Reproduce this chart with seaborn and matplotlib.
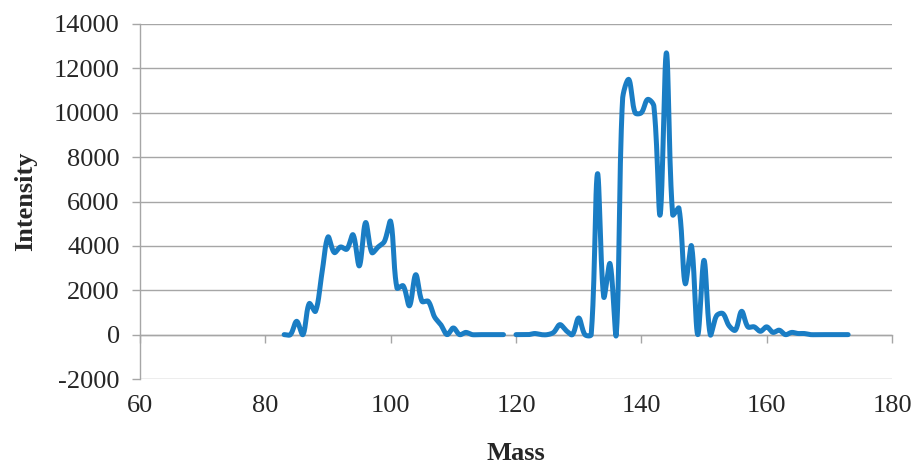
import numpy as np
import pandas as pd
import matplotlib
matplotlib.use('Agg')
import matplotlib.pyplot as plt
import seaborn as sns

# two runs of data, nothing recorded at mass 119
mass_a = list(range(83, 119))
intensity_a = [0, 0, 600, 0, 1400, 1050, 2700, 4400, 3700, 3950,
               3850, 4500, 3100, 5050, 3700, 3950, 4200, 5100, 2100, 2200,
               1300, 2700, 1500, 1500, 800, 450, 0, 300, 0, 100,
               0, 0, 0, 0, 0, 0]

mass_b = list(range(120, 174))
intensity_b = [0, 0, 0, 50, 0, 0, 100, 450, 180, 0,
               750, 0, 0, 7250, 1700, 3200, 0, 10600, 11500, 10000,
               10000, 10600, 10300, 5400, 12700, 5400, 5700, 2300, 4000, 0,
               3350, 0, 850, 950, 400, 200, 1050, 350, 350, 150,
               350, 100, 200, 0, 100, 50, 50, 0, 0, 0,
               0, 0, 0, 0]

x_ticks = [60, 80, 100, 120, 140, 160, 180]
y_ticks = [-2000, 0, 2000, 4000, 6000, 8000, 10000, 12000, 14000]

LINE = '#1a7dc4'
GRID = '#a6a6a6'

# rough pixel size of one data unit, used to smooth in screen space
SX, SY = 6.27, 0.0222


def smooth(xs, ys, n=24):
    # Excel-like smoothed line: bezier segments, handles scaled by chord length
    p = np.column_stack([np.array(xs) * SX, np.array(ys) * SY]).astype(float)
    p = np.vstack([p[0], p, p[-1]])
    out = []
    t = np.linspace(0, 1, n, endpoint=False)[:, None]
    for i in range(1, len(p) - 2):
        p0, p1, p2, p3 = p[i - 1], p[i], p[i + 1], p[i + 2]
        d01 = np.hypot(*(p1 - p0))
        d12 = np.hypot(*(p2 - p1))
        d23 = np.hypot(*(p3 - p2))
        f1 = d12 / (d01 + d12) if d01 + d12 > 0 else 0
        f2 = d12 / (d12 + d23) if d12 + d23 > 0 else 0
        c1 = p1 + (p2 - p0) * f1 / 3
        c2 = p2 - (p3 - p1) * f2 / 3
        seg = ((1 - t) ** 3) * p1 + 3 * ((1 - t) ** 2) * t * c1 + 3 * (1 - t) * t ** 2 * c2 + t ** 3 * p2
        out.append(seg)
    out.append(p[-2][None, :])
    out = np.vstack(out)
    return out[:, 0] / SX, out[:, 1] / SY


sns.set_style('white')
plt.rcParams['font.family'] = ['Liberation Serif', 'DejaVu Serif']
plt.rcParams['axes.unicode_minus'] = False

fig = plt.figure(figsize=(9.17, 4.66), dpi=100)
ax = fig.add_axes([140 / 917, 1 - 379 / 466, 752 / 917, 355 / 466])

frames = []
for k, (mx, iy) in enumerate([(mass_a, intensity_a), (mass_b, intensity_b)]):
    sx, sy = smooth(mx, iy)
    frames.append(pd.DataFrame({'Mass': sx, 'Intensity': sy, 'seg': k}))
df = pd.concat(frames, ignore_index=True)

sns.lineplot(data=df, x='Mass', y='Intensity', units='seg', estimator=None,
             sort=False, color=LINE, lw=3.6, ax=ax, zorder=3)

ax.set_xlim(60, 180)
ax.set_ylim(-2000, 14000)
ax.set_xticks(x_ticks)
ax.set_yticks(y_ticks)

# horizontal gridlines only
ax.yaxis.grid(True, color=GRID, lw=1)
ax.xaxis.grid(False)
for s in ['top', 'right']:
    ax.spines[s].set_visible(False)
ax.spines['left'].set_color(GRID)
ax.spines['left'].set_linewidth(1)
ax.spines['bottom'].set_color(GRID)
ax.spines['bottom'].set_linewidth(1)
ax.spines['bottom'].set_position(('data', 0))

ax.tick_params(axis='y', direction='out', length=5.5, width=1, color=GRID,
               labelsize=19, pad=9, left=True)
ax.tick_params(axis='x', direction='out', length=5.5, width=1, color=GRID,
               labelsize=19, pad=38, bottom=True)

ax.set_xlabel('Mass', fontsize=19, fontweight='bold')
ax.set_ylabel('Intensity', fontsize=19, fontweight='bold')
ax.xaxis.set_label_coords(0.5, -0.178)
ax.yaxis.set_label_coords(-0.137, 0.5)

fig.savefig('out.png', dpi=100)
